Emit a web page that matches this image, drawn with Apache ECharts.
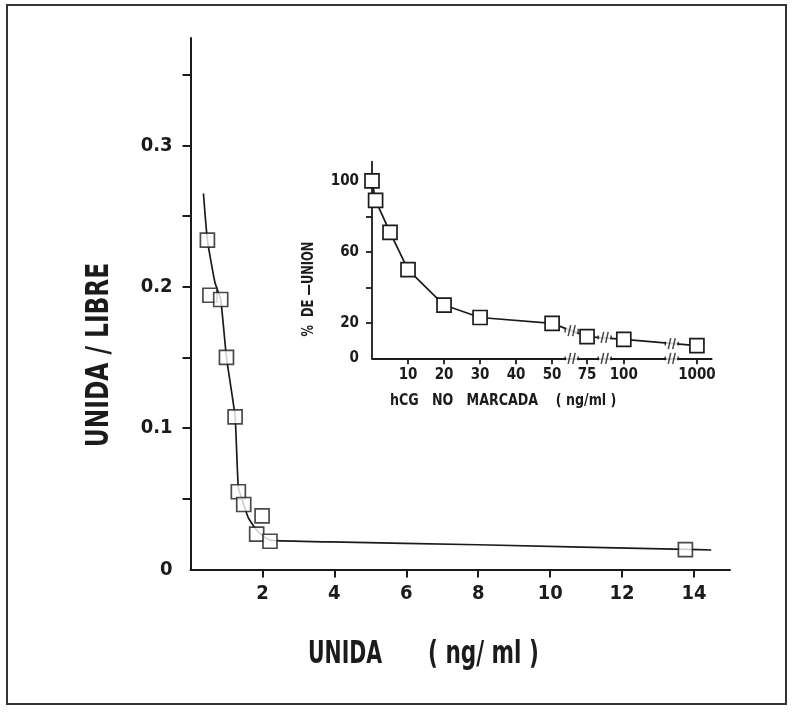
<!DOCTYPE html>
<html><head><meta charset="utf-8">
<script src="https://cdn.jsdelivr.net/npm/echarts@6/dist/echarts.min.js"></script>
<style>html,body{margin:0;padding:0;background:#fff}#c{width:793px;height:713px}</style>
</head><body><div id="c"></div>
<script>
// ---- Main chart: UNIDA/LIBRE vs UNIDA (ng/ml) ----
const mainPointsX = [0.47, 0.54, 0.84, 1.0, 1.24, 1.33, 1.48, 1.99, 1.84, 2.21, 13.76];
const mainPointsY = [0.233, 0.194, 0.191, 0.150, 0.108, 0.055, 0.046, 0.038, 0.025, 0.020, 0.014];
const curveX = [0.36, 0.47, 0.68, 0.84, 1.0, 1.24, 1.33, 1.48, 1.6, 1.75, 1.93, 2.21, 3.9, 8.0, 13.76, 14.48];
const curveY = [0.266, 0.233, 0.203, 0.191, 0.150, 0.108, 0.058, 0.046, 0.037, 0.031, 0.0255, 0.0208, 0.0195, 0.0175, 0.0142, 0.0138];
const mainXTicks = [2, 4, 6, 8, 10, 12, 14];
const mainYTicks = [0.05, 0.1, 0.15, 0.2, 0.25, 0.3, 0.35];
const mainYLabels = [0, 0.1, 0.2, 0.3];

// ---- Inset: % DE UNION vs hCG NO MARCADA (ng/ml), broken x axis ----
const insetConc = [0, 1, 5, 10, 20, 30, 50, 75, 100, 1000];
const insetBinding = [100, 89, 71, 50, 30, 23, 19.7, 12.2, 10.7, 7.1];
const insetXTicks = [10, 20, 30, 40, 50, 75, 100, 1000];
const insetYTicks = [20, 40, 60, 80, 100];
const insetYLabels = [0, 20, 60, 100];
// broken-axis scale knots: concentration -> axis position
const brokenKnotsConc = [0, 50, 75, 100, 1000];
const brokenKnotsPos = [0, 50, 59.7, 69.9, 90.2];
// where the axis and the curve are broken (concentration) and curve level there
const breakConc = [64, 87, 690];
const breakLineY = [15.6, 11.8, 8.3];

function toPos(c) {
  for (let i = 1; i < brokenKnotsConc.length; i++) {
    if (c <= brokenKnotsConc[i]) {
      const c0 = brokenKnotsConc[i - 1], c1 = brokenKnotsConc[i];
      const p0 = brokenKnotsPos[i - 1], p1 = brokenKnotsPos[i];
      return p0 + (c - c0) / (c1 - c0) * (p1 - p0);
    }
  }
  return brokenKnotsPos[brokenKnotsPos.length - 1];
}

const FONT = "'Liberation Sans Narrow','DejaVu Sans Condensed','Arial Narrow',sans-serif";
const INK = '#1b1b1b';
const insetTickPos = insetXTicks.map(toPos);

const breakSymbol = 'path://M0 4 L0 8 M3 12 L5.5 0 M7.5 12 L10 0 M13 4 L13 8';

const chart = echarts.init(document.getElementById('c'), null, {renderer: 'canvas'});
const option = {
  backgroundColor: '#fff',
  animation: false,
  grid: [
    {left: 190.5, right: 63, top: 38, bottom: 143.5},
    {left: 372, right: 81.3, top: 161.7, bottom: 354.7}
  ],
  xAxis: [
    {
      gridIndex: 0, type: 'value', min: 0, max: 15,
      splitLine: {show: false},
      axisLine: {onZero: false, lineStyle: {color: INK, width: 2}},
      axisTick: {customValues: mainXTicks, length: 8, lineStyle: {color: INK, width: 2}},
      axisLabel: {customValues: mainXTicks, margin: 14, color: INK, fontFamily: FONT, fontWeight: 'bold', fontSize: 20}
    },
    {
      gridIndex: 1, type: 'value', min: 0, max: 94.3,
      splitLine: {show: false},
      axisLine: {onZero: false, lineStyle: {color: INK, width: 1.8}},
      axisTick: {customValues: insetTickPos, length: 6, lineStyle: {color: INK, width: 1.8}},
      axisLabel: {
        customValues: insetTickPos, margin: 9, color: INK, fontFamily: FONT, fontWeight: 'bold', fontSize: 15,
        formatter: function (v) {
          let best = 0;
          for (let i = 1; i < insetTickPos.length; i++) {
            if (Math.abs(insetTickPos[i] - v) < Math.abs(insetTickPos[best] - v)) best = i;
          }
          return String(insetXTicks[best]);
        }
      }
    }
  ],
  yAxis: [
    {
      gridIndex: 0, type: 'value', min: 0, max: 0.376,
      splitLine: {show: false},
      axisLine: {onZero: false, lineStyle: {color: INK, width: 2}},
      axisTick: {customValues: mainYTicks, length: 8, lineStyle: {color: INK, width: 2}},
      axisLabel: {customValues: mainYLabels, margin: 18, color: INK, fontFamily: FONT, fontWeight: 'bold', fontSize: 20,
        formatter: v => String(v)}
    },
    {
      gridIndex: 1, type: 'value', min: 0, max: 110.8,
      splitLine: {show: false},
      axisLine: {onZero: false, lineStyle: {color: INK, width: 1.8}},
      axisTick: {customValues: insetYTicks, length: 6, lineStyle: {color: INK, width: 1.8}},
      axisLabel: {customValues: insetYLabels, margin: 13, color: INK, fontFamily: FONT, fontWeight: 'bold', fontSize: 15,
        formatter: v => String(v)}
    }
  ],
  series: [
    {
      type: 'line', xAxisIndex: 0, yAxisIndex: 0,
      data: curveX.map((x, i) => [x, curveY[i]]),
      showSymbol: false, smooth: 0.15,
      lineStyle: {color: INK, width: 1.7}, z: 2
    },
    {
      type: 'scatter', xAxisIndex: 0, yAxisIndex: 0,
      data: mainPointsX.map((x, i) => [x, mainPointsY[i]]),
      symbol: 'rect', symbolSize: 14, clip: false,
      itemStyle: {color: '#fff', borderColor: INK, borderWidth: 1.7}, z: 4
    },
    {
      type: 'line', xAxisIndex: 1, yAxisIndex: 1,
      data: insetConc.map((c, i) => [toPos(c), insetBinding[i]]),
      symbol: 'rect', symbolSize: 14, showSymbol: true, clip: false,
      lineStyle: {color: INK, width: 1.7},
      itemStyle: {color: '#fff', borderColor: INK, borderWidth: 1.7}, z: 4
    },
    {
      type: 'scatter', xAxisIndex: 1, yAxisIndex: 1, clip: false, silent: true,
      data: breakConc.map(c => [toPos(c), 0]).concat(breakConc.map((c, i) => [toPos(c), breakLineY[i]])),
      symbol: 'rect', symbolSize: [11, 6],
      itemStyle: {color: '#fff'}, z: 5
    },
    {
      type: 'scatter', xAxisIndex: 1, yAxisIndex: 1, clip: false, silent: true,
      data: breakConc.map(c => [toPos(c), 0]).concat(breakConc.map((c, i) => [toPos(c), breakLineY[i]])),
      symbol: breakSymbol, symbolSize: [13, 11],
      itemStyle: {color: 'none', borderColor: INK, borderWidth: 1.4}, z: 6
    }
  ],
  graphic: [
    {type: 'rect', silent: true, shape: {x: 7, y: 5, width: 779, height: 699},
      style: {fill: 'none', stroke: '#333', lineWidth: 2}},
    {type: 'text', silent: true, x: 100, y: 355, rotation: Math.PI / 2, scaleX: 0.81,
      style: {text: 'UNIDA / LIBRE', font: 'bold 32px ' + FONT, fill: INK, align: 'center', verticalAlign: 'middle'}},
    {type: 'text', silent: true, x: 308, y: 655, scaleX: 0.71,
      style: {text: 'UNIDA', font: 'bold 32px ' + FONT, fill: INK, align: 'left', verticalAlign: 'middle'}},
    {type: 'text', silent: true, x: 428, y: 655, scaleX: 0.75,
      style: {text: '( ng/ ml )', font: 'bold 32px ' + FONT, fill: INK, align: 'left', verticalAlign: 'middle'}},
    {type: 'text', silent: true, x: 390, y: 401, scaleX: 0.88,
      style: {text: 'hCG   NO   MARCADA    ( ng/ml )', font: 'bold 16px ' + FONT, fill: INK, align: 'left', verticalAlign: 'middle'}},
    {type: 'text', silent: true, x: 309, y: 289, rotation: Math.PI / 2, scaleX: 0.85,
      style: {text: '%  DE \u2014UNION', font: 'bold 15px ' + FONT, fill: INK, align: 'center', verticalAlign: 'middle'}}
  ]
};
chart.setOption(option);
</script>
</body></html>
